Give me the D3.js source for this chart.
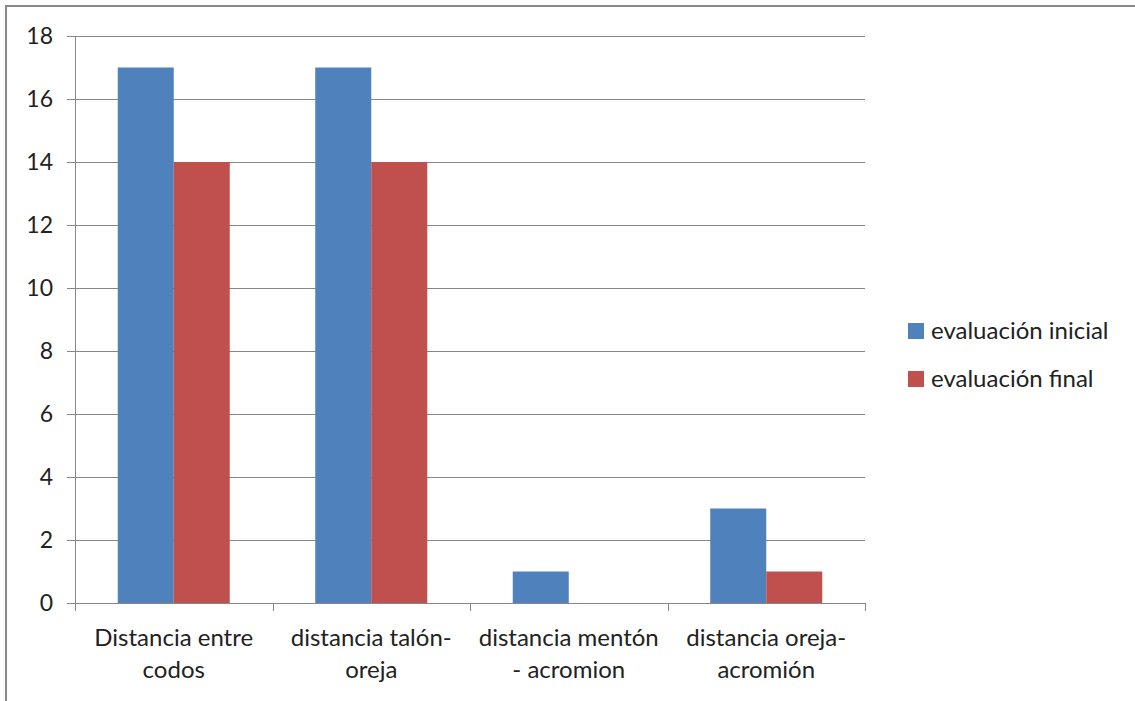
<!DOCTYPE html>
<html>
<head>
<meta charset="utf-8">
<script src="https://cdn.jsdelivr.net/npm/d3@7"></script>
<style>
  html, body { margin: 0; padding: 0; background: #fff; }
  svg { display: block; }
  text { font-family: Lato, "Open Sans", sans-serif; fill: #222; }
</style>
</head>
<body>
<svg id="chart" width="1135" height="701"></svg>
<script>
// Categories (each label split into its two display lines)
const categories = [
  ["Distancia entre", "codos"],
  ["distancia talón-", "oreja"],
  ["distancia mentón", "- acromion"],
  ["distancia oreja-", "acromión"]
];
const seriesNames = ["evaluación inicial", "evaluación final"];
const inicial = [17, 17, 1, 3];
const final = [14, 14, 0, 1];
const yTicks = [0, 2, 4, 6, 8, 10, 12, 14, 16, 18];
const colors = ["#4F81BD", "#C0504D"];

const svg = d3.select("#chart");
const gridColor = "#878787";

// Outer frame
svg.append("line").attr("x1", 5).attr("x2", 1135).attr("y1", 6).attr("y2", 6)
  .attr("stroke", "#8a8a8a").attr("stroke-width", 2);
svg.append("line").attr("x1", 6).attr("x2", 6).attr("y1", 5).attr("y2", 701)
  .attr("stroke", "#8a8a8a").attr("stroke-width", 2);

const plot = { left: 75, right: 865, top: 36, bottom: 603 };

const catKeys = categories.map((c, i) => i);
const x0 = d3.scaleBand().domain(catKeys).range([plot.left, plot.right]).padding(0);
const x1 = d3.scaleBand().domain([0, 1]).range([0, x0.bandwidth()])
  .paddingInner(0).paddingOuter(0.763);
const y = d3.scaleLinear().domain([0, 18]).range([plot.bottom, plot.top]);

// Horizontal gridlines with left tick marks
const gy = svg.append("g");
yTicks.forEach(t => {
  gy.append("line")
    .attr("x1", plot.left - 8).attr("x2", plot.right)
    .attr("y1", Math.round(y(t)) + 0.5).attr("y2", Math.round(y(t)) + 0.5)
    .attr("stroke", gridColor).attr("stroke-width", 1);
  gy.append("text")
    .attr("x", 53).attr("y", y(t))
    .attr("dy", "0.35em")
    .attr("text-anchor", "end")
    .attr("font-size", 23)
    .text(t);
});

// Vertical axis line
svg.append("line")
  .attr("x1", plot.left + 0.5).attr("x2", plot.left + 0.5)
  .attr("y1", plot.top).attr("y2", plot.bottom)
  .attr("stroke", gridColor);

// Category boundary ticks below the x axis
d3.range(categories.length + 1).forEach(i => {
  const xx = Math.round(plot.left + i * x0.step()) + 0.5;
  svg.append("line")
    .attr("x1", xx).attr("x2", xx)
    .attr("y1", plot.bottom).attr("y2", plot.bottom + 8)
    .attr("stroke", gridColor);
});

// Bars
const data = catKeys.map(i => [inicial[i], final[i]]);
const groups = svg.append("g").selectAll("g")
  .data(data).join("g")
  .attr("transform", (d, i) => `translate(${x0(i)},0)`);
groups.selectAll("rect")
  .data(d => d.map((v, s) => ({ v, s })))
  .join("rect")
  .attr("x", d => x1(d.s))
  .attr("width", x1.bandwidth())
  .attr("y", d => y(d.v))
  .attr("height", d => y(0) - y(d.v))
  .attr("fill", d => colors[d.s]);

// Redraw x axis baseline over bars
svg.append("line")
  .attr("x1", plot.left - 8).attr("x2", plot.right)
  .attr("y1", plot.bottom + 0.5).attr("y2", plot.bottom + 0.5)
  .attr("stroke", gridColor);

// Category labels
categories.forEach((lines, i) => {
  const cx = x0(i) + x0.bandwidth() / 2;
  lines.forEach((ln, k) => {
    svg.append("text")
      .attr("x", cx).attr("y", 638 + k * 32)
      .attr("dy", "0.35em")
      .attr("text-anchor", "middle")
      .attr("font-size", 24)
      .text(ln);
  });
});

// Legend
seriesNames.forEach((name, s) => {
  const ly = 331 + s * 48;
  svg.append("rect")
    .attr("x", 908).attr("y", ly - 8).attr("width", 16).attr("height", 16)
    .attr("fill", colors[s]);
  svg.append("text")
    .attr("x", 931).attr("y", ly)
    .attr("dy", "0.35em")
    .attr("font-size", 24)
    .text(name);
});
</script>
</body>
</html>
